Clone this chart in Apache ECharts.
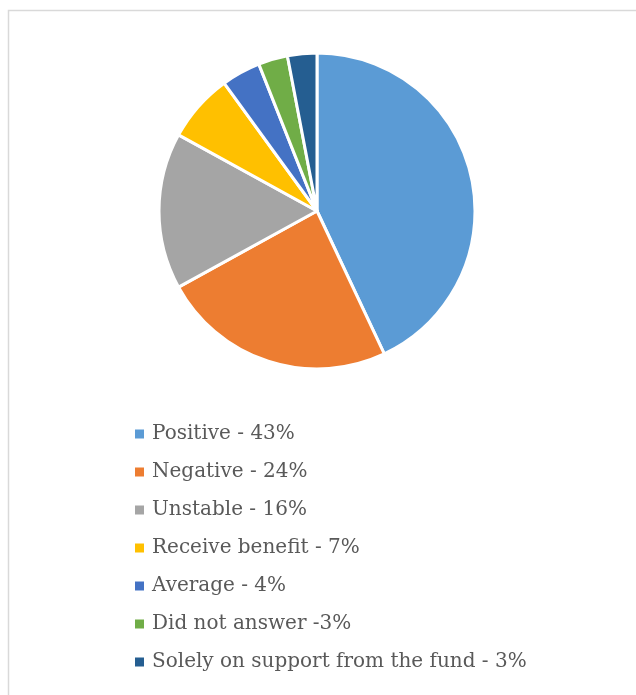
<!DOCTYPE html>
<html><head><meta charset="utf-8">
<script src="https://cdn.jsdelivr.net/npm/echarts@6/dist/echarts.min.js"></script>
<style>html,body{margin:0;padding:0;background:#fff}#c{width:636px;height:695px}</style>
</head><body><div id="c"></div>
<script>
const categories = ["Positive - 43%","Negative - 24%","Unstable - 16%","Receive benefit - 7%","Average - 4%","Did not answer -3%","Solely on support from the fund - 3%"];
const values = [43,24,16,7,4,3,3];
const colors = ["#5b9bd5","#ed7d31","#a5a5a5","#ffc000","#4472c4","#70ad47","#255e91"];
const chart = echarts.init(document.getElementById('c'));
chart.setOption({
  animation:false,
  color: colors,
  graphic:[{type:'rect',shape:{x:8.5,y:10.5,width:700,height:800},style:{fill:'none',stroke:'#d9d9d9',lineWidth:1.5},silent:true}],
  legend:{
    orient:'vertical', left:128, top:417,
    itemWidth:11, itemHeight:11, itemGap:14,
    icon:'rect',
    textStyle:{fontFamily:'DejaVu Serif', fontSize:20, color:'#595959', lineHeight:24, padding:[0,0,0,2]},
    data: categories
  },
  series:[{
    type:'pie', center:[317,211], radius:158, startAngle:90, clockwise:true,
    label:{show:false}, labelLine:{show:false},
    itemStyle:{borderColor:'#fff', borderWidth:3},
    data: categories.map((n,i)=>({name:n, value:values[i]}))
  }]
});
</script></body></html>
